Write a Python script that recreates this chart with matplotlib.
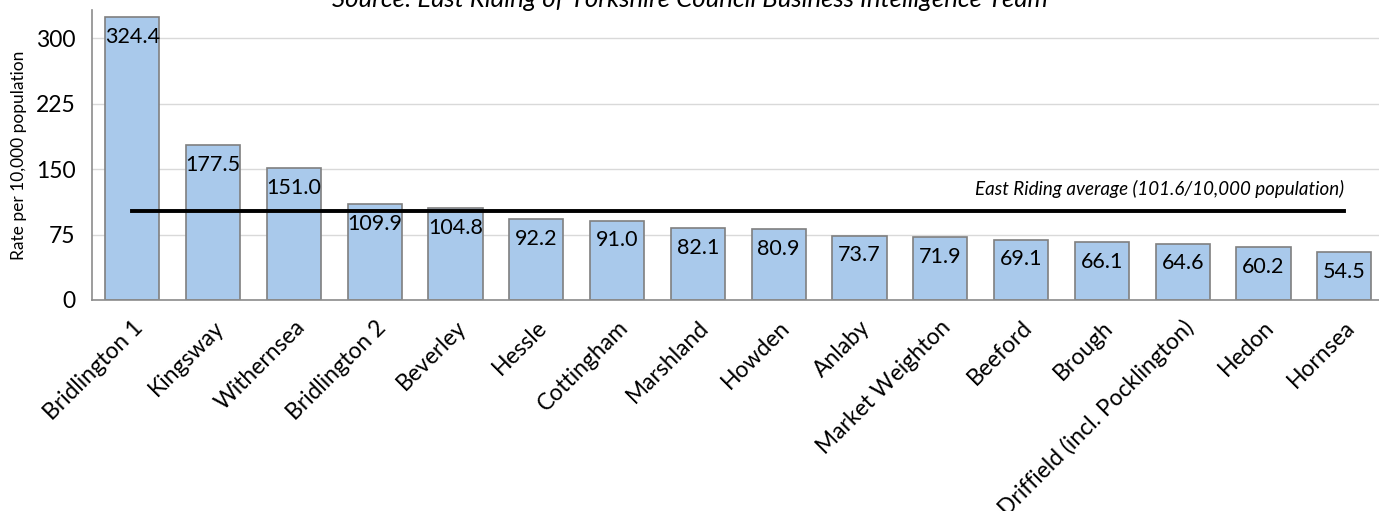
import matplotlib.pyplot as plt

areas = ["Bridlington 1", "Kingsway", "Withernsea", "Bridlington 2", "Beverley",
         "Hessle", "Cottingham", "Marshland", "Howden", "Anlaby",
         "Market Weighton", "Beeford", "Brough", "Driffield (incl. Pocklington)",
         "Hedon", "Hornsea"]
rates = [324.4, 177.5, 151.0, 109.9, 104.8, 92.2, 91.0, 82.1, 80.9, 73.7,
         71.9, 69.1, 66.1, 64.6, 60.2, 54.5]
average = 101.6
yticks = [0, 75, 150, 225, 300]

plt.rcParams['font.family'] = ['Lato', 'DejaVu Sans']

fig = plt.figure(figsize=(13.79, 5.11), dpi=100)
ax = fig.add_axes([0.0667, 0.413, 0.9333, 0.567])

x = range(len(areas))
bars = ax.bar(x, rates, width=0.67, color='#a9c9eb', edgecolor='#7f7f7f',
              linewidth=1.2, zorder=2)

# value labels sit just inside the top of each bar
for xi, v in zip(x, rates):
    ax.annotate(f"{v:.1f}", (xi, v), xytext=(0, -7), textcoords='offset points',
                ha='center', va='top', fontsize=15.5, zorder=4)

ax.plot([0, len(areas) - 1], [average, average], color='black', lw=2.8, zorder=3)
ax.text(len(areas) - 1, 117, f"East Riding average ({average}/10,000 population)",
        ha='right', va='bottom', fontsize=13.5, style='italic')

ax.set_xlim(-0.5, 15.43)
ax.set_ylim(0, 332)
ax.set_yticks(yticks)
ax.yaxis.grid(True, color='#d9d9d9', lw=1, zorder=0)
ax.set_axisbelow(True)
ax.set_xticks(list(x))
ax.set_xticklabels(areas, rotation=45, ha='right', rotation_mode='anchor', fontsize=16.5)
ax.tick_params(axis='both', length=0)
ax.tick_params(axis='y', labelsize=16.5, pad=12)
ax.tick_params(axis='x', pad=12)
ax.set_ylabel("Rate per 10,000 population", fontsize=12.5, labelpad=6)

for s in ['top', 'right']:
    ax.spines[s].set_visible(False)
for s in ['left', 'bottom']:
    ax.spines[s].set_color('#8c8c8c')
    ax.spines[s].set_linewidth(1.2)

fig.text(0.5, 0.986, "Source: East Riding of Yorkshire Council Business Intelligence Team",
         ha='center', va='baseline', fontsize=18.5, style='italic')

fig.savefig('out.png', dpi=100)
